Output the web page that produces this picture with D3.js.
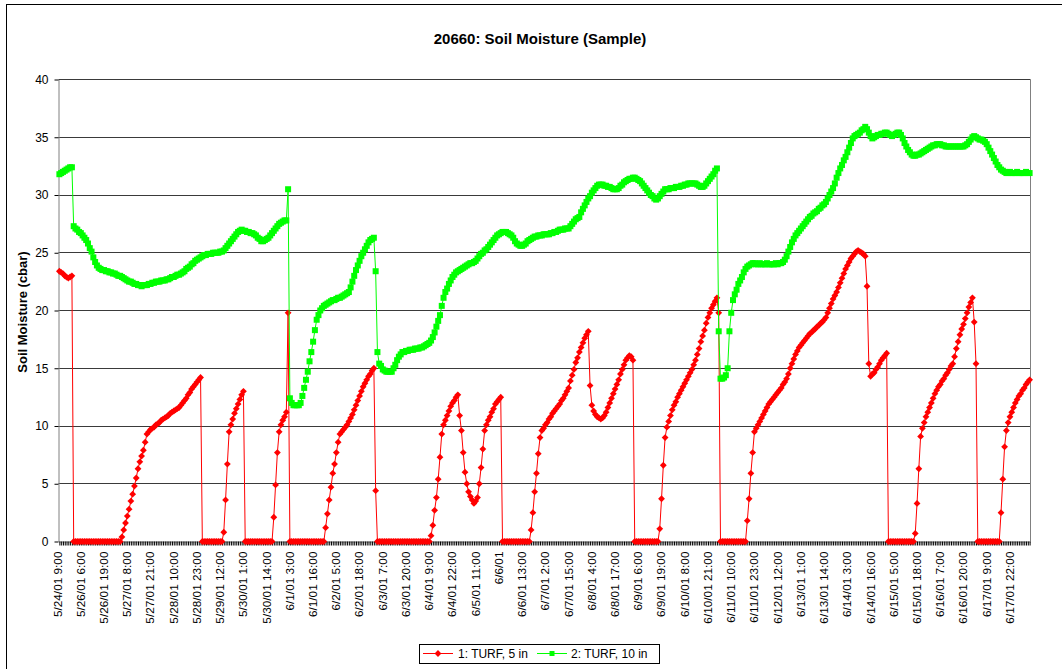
<!DOCTYPE html>
<html><head><meta charset="utf-8">
<script src="https://cdn.jsdelivr.net/npm/d3@7"></script>
<style>
body{margin:0;background:#fff;}
svg{display:block;font-family:"Liberation Sans",Arial,sans-serif;}
</style>
</head><body>
<svg id="chart" width="1062" height="669"></svg>
<script>
const chartTitle = "20660: Soil Moisture (Sample)";
const yTitle = "Soil Moisture (cbar)";
const seriesNames = ["1: TURF, 5 in", "2: TURF, 10 in"];
const seriesColors = ["#ff0000", "#00ff00"];
const yTicks = [0, 5, 10, 15, 20, 25, 30, 35, 40];
const labelStep = 13;
const tickLabels = ["5/24/01 9:00","5/26/01 6:00","5/26/01 19:00","5/27/01 8:00","5/27/01 21:00","5/28/01 10:00","5/28/01 23:00","5/29/01 12:00","5/30/01 1:00","5/30/01 14:00","6/1/01 3:00","6/1/01 16:00","6/2/01 5:00","6/2/01 18:00","6/3/01 7:00","6/3/01 20:00","6/4/01 9:00","6/4/01 22:00","6/5/01 11:00","6/6/01","6/6/01 13:00","6/7/01 2:00","6/7/01 15:00","6/8/01 4:00","6/8/01 17:00","6/9/01 6:00","6/9/01 19:00","6/10/01 8:00","6/10/01 21:00","6/11/01 10:00","6/11/01 23:00","6/12/01 12:00","6/13/01 1:00","6/13/01 14:00","6/14/01 3:00","6/14/01 16:00","6/15/01 5:00","6/15/01 18:00","6/16/01 7:00","6/16/01 20:00","6/17/01 9:00","6/17/01 22:00"];

// series 1: TURF, 5 in (one value per hourly reading)
const turf5 = [
23.4,23.3,23.2,23.0,22.9,22.8,22.9,23.0,
0,0,0,0,0,0,0,0,0,0, 0,0,0,0,0,0,0,0,0,0, 0,0,0,0,0,0,0,
0.4,1.0,1.6,2.2,2.8,3.5,4.1,4.8,5.5,6.3,6.9,7.4,7.9,8.6,9.3,9.5,9.7,9.8,9.9,10.1,10.2,10.3,10.5,10.6,10.7,10.8,10.9,11.1,11.2,11.3,11.4,11.5,11.6,11.8,12.0,12.2,12.4,12.7,12.9,13.2,13.4,13.6,13.8,14.0,14.2,
0,0,0,0,0,0,0,0,0,0, 0,0,
0.8,3.6,6.7,9.5,10.1,10.6,11.1,11.5,11.9,12.3,12.7,13.0,
0,0,0,0,0,0,0,0,0,0, 0,0,0,0,0,0,
2.1,4.9,7.7,9.5,10.1,10.5,10.8,11.2,19.8,
0,0,0,0,0,0,0,0,0,0, 0,0,0,0,0,0,0,0,0,0,
1.2,2.4,3.6,4.7,5.9,6.7,7.7,8.6,9.3,9.5,9.7,9.9,10.1,10.4,10.7,11.0,11.4,11.8,12.2,12.6,13.0,13.4,13.7,14.0,14.3,14.5,14.8,15.0,4.4,
0,0,0,0,0,0,0,0,0,0, 0,0,0,0,0,0,0,0,0,0, 0,0,0,0,0,0,0,0,0,0,
0.5,1.4,2.7,3.8,5.4,7.3,9.3,10.1,10.5,10.9,11.3,11.7,12.0,12.2,12.5,12.7,10.9,9.6,7.7,6.0,5.0,4.3,3.9,3.6,3.3,3.5,3.8,5.0,6.4,8.0,9.6,10.1,10.5,10.8,11.2,11.5,11.9,12.1,12.3,12.5,
0,0,0,0,0,0,0,0,0,0, 0,0,0,0,0,0,
1.0,2.5,4.3,5.9,7.6,9.0,9.6,9.8,10.1,10.3,10.6,10.8,11.1,11.3,11.5,11.7,11.9,12.2,12.4,12.7,13.0,13.3,13.9,14.4,14.9,15.5,15.9,16.4,16.8,17.2,17.6,17.9,18.2,13.5,11.8,11.3,11.0,10.8,10.7,10.6,10.7,10.9,11.2,11.6,12.0,12.4,12.8,13.2,13.6,14.0,14.5,14.9,15.3,15.7,15.9,16.1,16.0,15.7,
0,0,0,0,0,0,0,0,0,0, 0,0,0,0,
1.1,3.7,6.6,9.0,9.9,10.4,10.9,11.4,11.8,12.1,12.5,12.8,13.1,13.4,13.7,14.0,14.3,14.6,14.9,15.3,15.7,16.2,16.7,17.3,17.8,18.3,18.9,19.4,19.8,20.2,20.5,20.8,21.1,19.8,
0,0,0,0,0,0,0,0,0,0, 0,0,0,0,0,
1.8,3.7,5.9,7.7,9.5,9.8,10.1,10.4,10.7,11.0,11.3,11.6,11.9,12.1,12.3,12.5,12.7,12.9,13.1,13.3,13.6,13.8,14.1,14.5,15.0,15.4,15.8,16.2,16.5,16.8,17.0,17.2,17.4,17.6,17.8,18.0,18.1,18.3,18.4,18.6,18.7,18.9,19.0,19.2,19.4,19.8,20.2,20.6,21.0,21.3,21.6,22.0,22.4,22.8,23.2,23.6,23.9,24.2,24.5,24.7,24.9,25.1,25.2,25.1,25.0,24.9,24.7,22.1,15.4,14.3,14.5,14.6,14.9,15.1,15.4,15.7,15.9,16.1,16.3,
0,0,0,0,0,0,0,0,0,0, 0,0,0,0,0,
0.7,3.3,6.3,9.1,9.8,10.3,10.8,11.2,11.6,12.0,12.4,12.8,13.1,13.4,13.6,13.9,14.1,14.4,14.6,14.9,15.2,15.4,16.0,16.7,17.3,17.9,18.4,18.8,19.3,19.8,20.3,20.7,21.1,19.0,15.4,
0,0,0,0,0,0,0,0,0,0, 0,0,0,
2.5,5.4,8.2,9.6,10.3,10.8,11.2,11.6,12.0,12.3,12.6,12.8,13.1,13.3,13.6,13.8,14.0
];

// series 2: TURF, 10 in
const turf10 = [
31.8,31.9,32.0,32.1,32.2,32.3,32.4,32.4,
27.3,27.1,27.0,26.8,26.7,26.5,26.3,26.1,25.8,25.4,25.1,24.6,24.2,23.9,23.7,23.6,23.5,23.5,23.4,23.4,23.3,23.3,23.2,23.2,23.1,23.0,23.0,22.9,22.8,22.7,22.6,22.5,22.5,22.4,22.3,22.3,22.2,22.2,22.1,22.2,22.2,22.2,22.3,22.3,22.4,22.4,22.5,22.5,22.5,22.6,22.6,22.6,22.7,22.7,22.8,22.9,22.9,23.0,23.1,23.1,23.2,23.3,23.4,23.6,23.7,23.8,24.0,24.1,24.3,24.4,24.5,24.6,24.7,24.8,24.8,24.9,24.9,24.9,25.0,25.0,25.0,25.0,25.1,25.1,25.2,25.4,25.6,25.8,26.0,26.2,26.4,26.6,26.8,26.9,27.0,26.9,26.9,26.8,26.8,26.7,26.7,26.6,26.5,26.3,26.2,26.0,26.0,26.1,26.2,26.3,26.5,26.7,26.9,27.1,27.3,27.5,27.6,27.7,27.8,27.8,
30.5,12.4,
12.0,11.8,11.8,11.8,11.8,12.0,12.6,13.3,14.0,14.7,15.6,16.4,17.3,18.3,19.2,19.6,20.0,20.2,20.4,20.5,20.6,20.7,20.8,20.9,20.9,21.0,21.1,21.1,21.2,21.3,21.4,21.5,21.6,22.0,22.5,23.0,23.5,23.9,24.3,24.7,25.0,25.3,25.6,25.9,26.1,26.2,26.3,23.4,16.4,
15.4,15.2,14.9,14.8,14.7,14.7,14.7,14.7,15.0,15.3,15.7,16.0,16.2,16.4,16.4,16.5,16.5,16.6,16.6,16.6,16.7,16.7,16.7,16.8,16.8,16.9,17.0,17.1,17.2,17.4,17.7,18.1,18.6,19.1,19.6,20.4,21.1,21.6,21.9,22.3,22.6,22.9,23.1,23.3,23.4,23.5,23.6,23.7,23.8,23.9,24.0,24.1,24.1,24.2,24.3,24.5,24.7,24.9,25.0,25.2,25.3,25.5,25.7,25.9,26.1,26.3,26.5,26.6,26.7,26.8,26.8,26.8,26.7,26.6,26.5,26.3,26.0,25.8,25.7,25.6,25.6,25.7,25.8,26.0,26.1,26.2,26.3,26.4,26.4,26.5,26.5,26.5,26.6,26.6,26.6,26.6,26.7,26.7,26.8,26.8,26.9,27.0,27.0,27.0,27.1,27.1,27.1,27.3,27.5,27.7,27.9,28.0,28.1,28.5,28.8,29.1,29.4,29.7,29.9,30.2,30.4,30.6,30.8,30.9,30.9,30.9,30.8,30.8,30.7,30.7,30.6,30.5,30.5,30.5,30.6,30.8,30.9,31.1,31.2,31.3,31.4,31.4,31.5,31.5,31.4,31.3,31.2,31.0,30.8,30.6,30.4,30.2,30.0,29.9,29.7,29.6,29.7,29.9,30.1,30.3,30.5,30.5,30.5,30.6,30.6,30.6,30.7,30.7,30.7,30.8,30.8,30.9,30.9,31.0,31.0,31.0,31.0,31.0,30.9,30.8,30.7,30.7,30.8,31.0,31.2,31.4,31.6,31.8,32.1,32.3,
18.2,14.1,14.1,14.2,14.4,15.0,18.2,19.8,20.9,21.4,21.8,22.3,22.6,22.9,23.3,23.6,23.8,23.9,24.0,24.1,24.1,
24.0,24.0,24.1,24.0,24.0,24.0,24.1,24.0,24.0,24.0,24.0,24.1,24.0,24.1,
24.1,24.2,24.4,24.7,25.1,25.5,25.9,26.2,26.5,26.7,26.9,27.1,27.3,27.5,27.7,27.9,28.1,28.2,28.4,28.5,28.6,28.8,28.9,29.1,29.2,29.4,29.7,30.0,30.3,30.6,31.0,31.5,31.9,32.3,32.6,33.0,33.3,33.7,34.1,34.5,34.9,35.1,35.2,35.3,35.4,35.6,35.7,35.9,
35.7,35.4,35.1,34.9,35.0,35.1,35.2,35.2,35.3,35.3,35.4,35.4,35.3,35.2,35.1,35.2,35.3,35.4,35.4,35.2,34.9,34.5,34.2,33.9,33.7,33.5,33.4,33.4,33.5,33.5,33.6,33.7,33.8,33.9,34.0,34.1,34.2,34.3,34.3,34.4,34.4,34.4,34.3,34.3,34.2,34.2,34.2,34.2,34.2,34.2,34.2,34.2,34.2,34.2,34.2,34.3,34.4,34.6,34.8,35.0,35.1,35.0,34.9,34.8,34.8,34.7,34.6,34.4,34.1,33.8,33.5,33.2,32.9,32.6,32.4,32.2,32.1,32.0,
31.9,31.9,32.0,31.9,31.9,31.9,32.0,31.9,31.9,31.9,31.9,32.0,31.9,31.9
];

const allSeries = [turf5, turf10];

const svg = d3.select("#chart");
svg.append("rect").attr("width", 1062).attr("height", 669).attr("fill", "#fff");
// chart area border
svg.append("rect").attr("x", 6.5).attr("y", 4.5).attr("width", 1070).attr("height", 680)
  .attr("fill", "none").attr("stroke", "#000");

const n = d3.max(allSeries, s => s.length);
const idx = d3.range(n);
const plotL = 58.5, plotR = 1030.5, plotT = 79.5, plotB = 541.5;
const x = d3.scalePoint().domain(idx).range([plotL, plotR]).padding(0.5);
const y = d3.scaleLinear().domain([0, 40]).range([plotB, plotT]);
const snap = v => Math.round(v - 0.5) + 0.5;

// title
svg.append("text").attr("x", 540).attr("y", 43.5).attr("text-anchor", "middle")
  .style("font-size", "15px").style("font-weight", "bold").text(chartTitle);

// gridlines
svg.append("g").selectAll("line").data(yTicks.filter(v => v > 0)).join("line")
  .attr("x1", plotL).attr("x2", plotR)
  .attr("y1", d => snap(y(d))).attr("y2", d => snap(y(d)))
  .attr("stroke", "#3a3a3a").attr("stroke-width", 1);

// right border of plot
svg.append("line").attr("x1", plotR).attr("x2", plotR).attr("y1", plotT).attr("y2", plotB)
  .attr("stroke", "#808080");

// y axis
const yAxis = svg.append("g").attr("transform", `translate(${plotL},0)`)
  .call(d3.axisLeft(y).tickValues(yTicks).tickSize(4).tickSizeOuter(0).tickPadding(6));
yAxis.select(".domain").attr("stroke", "#808080");
yAxis.selectAll(".tick line").attr("stroke", "#000");
yAxis.selectAll("text").style("font-size", "12px").style("font-family", "'Liberation Sans',Arial,sans-serif").attr("fill", "#000");

// x axis
const xAxis = svg.append("g").attr("transform", `translate(0,${plotB})`)
  .call(d3.axisBottom(x).tickValues(idx).tickSize(4).tickSizeOuter(0)
    .tickFormat(i => (i % labelStep === 0 && tickLabels[i / labelStep] !== undefined) ? tickLabels[i / labelStep] : ""));
xAxis.select(".domain").attr("stroke", "#808080");
xAxis.selectAll(".tick line").attr("stroke", "#000");
xAxis.selectAll("text")
  .style("font-size", "11.8px").style("font-family", "'Liberation Sans',Arial,sans-serif").attr("fill", "#000")
  .attr("transform", "rotate(-90)").attr("text-anchor", "end")
  .attr("x", -10).attr("y", -2.5).attr("dy", "0.35em");

// y axis title
svg.append("text").attr("transform", "translate(26.5,312) rotate(-90)").attr("text-anchor", "middle")
  .style("font-size", "13px").style("font-weight", "bold").text(yTitle);

// series
const diamond = "M0,-3.4L3.4,0L0,3.4L-3.4,0Z";
const sq = 6;
allSeries.forEach((data, s) => {
  const g = svg.append("g");
  const line = d3.line().x((d, i) => x(i)).y(d => y(d));
  g.append("path").attr("d", line(data)).attr("fill", "none")
    .attr("stroke", seriesColors[s]).attr("stroke-width", 1);
  if (s === 0) {
    g.selectAll("path.m").data(data).join("path").attr("class", "m")
      .attr("d", diamond)
      .attr("transform", (d, i) => `translate(${x(i)},${y(d)})`)
      .attr("fill", seriesColors[s]);
  } else {
    g.selectAll("rect.m").data(data).join("rect").attr("class", "m")
      .attr("x", (d, i) => x(i) - sq / 2).attr("y", d => y(d) - sq / 2)
      .attr("width", sq).attr("height", sq)
      .attr("fill", seriesColors[s]);
  }
});

// legend
const lg = svg.append("g");
lg.append("rect").attr("x", 419.5).attr("y", 644.5).attr("width", 240).attr("height", 19)
  .attr("fill", "#fff").attr("stroke", "#000");
const items = [{x0: 423, tx: 458}, {x0: 537, tx: 571}];
items.forEach((it, s) => {
  const ly = 653.5;
  lg.append("line").attr("x1", it.x0).attr("x2", it.x0 + 30).attr("y1", ly).attr("y2", ly)
    .attr("stroke", seriesColors[s]);
  if (s === 0) {
    lg.append("path").attr("d", diamond).attr("transform", `translate(${it.x0 + 15},${ly})`).attr("fill", seriesColors[s]);
  } else {
    lg.append("rect").attr("x", it.x0 + 15 - 2.5).attr("y", ly - 2.5).attr("width", 5).attr("height", 5).attr("fill", seriesColors[s]);
  }
  lg.append("text").attr("x", it.tx).attr("y", ly + 4.2).style("font-size", "12px").text(seriesNames[s]);
});
</script>
</body></html>
